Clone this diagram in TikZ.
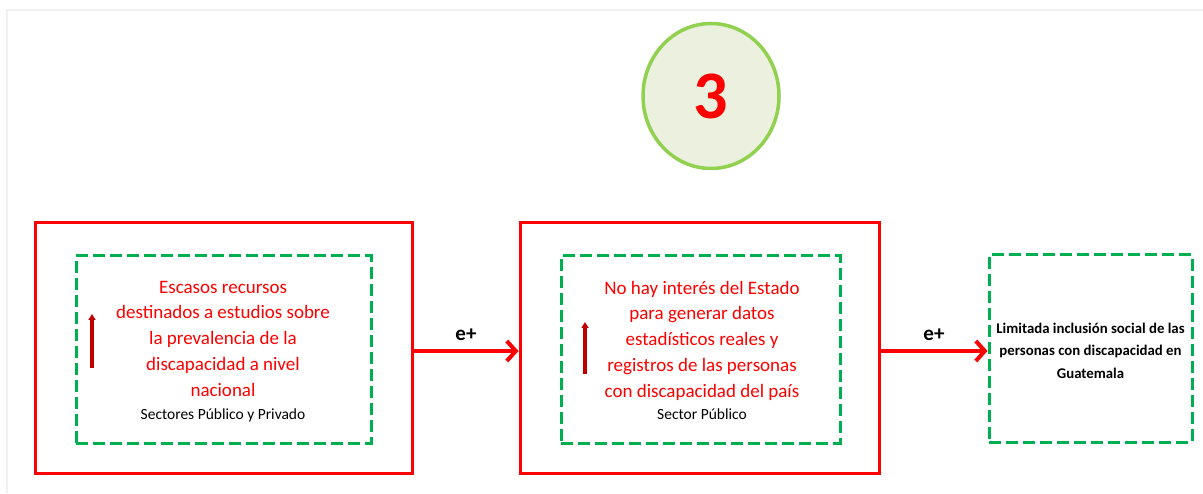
\documentclass[tikz,border=0pt]{standalone}
\usepackage{fontspec}
\setmainfont{Carlito}
\usetikzlibrary{arrows.meta,shapes.geometric}
\definecolor{redbox}{HTML}{FF0000}
\definecolor{greendash}{HTML}{00B050}
\definecolor{circfill}{HTML}{EBF1DE}
\definecolor{circline}{HTML}{92D050}
\definecolor{darkred}{HTML}{C00000}
\tikzset{
  redframe/.style={draw=redbox, line width=3pt},
  greenframe/.style={draw=greendash, line width=3pt, dash pattern=on 12pt off 5pt},
  bigarrow/.style={draw=redbox, line width=4pt, -{Straight Barb[length=9pt,width=20pt,line width=4pt]}},
  uparrow/.style={draw=darkred, line width=3.5pt, -{Triangle[length=6pt,width=7pt]}},
  redtext/.style={text=redbox, font=\fontsize{19}{26}\selectfont, align=center},
  blacktext/.style={text=black, font=\fontsize{15.5}{18}\selectfont, align=center},
  lbl/.style={font=\bfseries\fontsize{21}{24}\selectfont},
}
\begin{document}
\begin{tikzpicture}[x=1pt,y=-1pt]
\useasboundingbox (0,0) rectangle (1203,494);
% faint frame
\draw[draw=black!6, line width=2pt] (7,493) -- (7,10) -- (1203,10);
% circle
\node[ellipse, minimum width=136pt, minimum height=145pt, fill=circfill, draw=circline, line width=3.5pt, inner sep=0pt] (num) at (711,96) {};
\node[text=redbox, font=\bfseries\fontsize{68}{68}\selectfont] (numtxt) at (711,96) {3};
% box 1
\node[redframe, minimum width=377pt, minimum height=251pt, inner sep=0pt] (b1) at (223.5,348) {};
\node[greenframe, minimum width=295pt, minimum height=187pt, inner sep=0pt] (g1) at (223.5,349.5) {};
\node[redtext, anchor=base] (t1) at (223,397) {Escasos recursos\\destinados a estudios sobre\\la prevalencia de la\\discapacidad a nivel\\nacional};
\node[blacktext, anchor=base] (s1) at (223,420) {Sectores Público y Privado};
\coordinate (a1s) at (92,368);
\coordinate (a1e) at (92,314);
\draw[uparrow] (a1s) -- (a1e);
% box 2
\node[redframe, minimum width=359pt, minimum height=251pt, inner sep=0pt] (b2) at (699.5,348) {};
\node[greenframe, minimum width=279pt, minimum height=187pt, inner sep=0pt] (g2) at (700.5,349.5) {};
\node[redtext, anchor=base] (t2) at (702,398) {No hay interés del Estado\\para generar datos\\estadísticos reales y\\registros de las personas\\con discapacidad del país};
\node[blacktext, anchor=base] (s2) at (702,420) {Sector Público};
\coordinate (a2s) at (585,374);
\coordinate (a2e) at (585,322);
\draw[uparrow] (a2s) -- (a2e);
% box 3
\node[greenframe, minimum width=203pt, minimum height=187pt, inner sep=0pt] (g3) at (1090.5,348.5) {};
\node[align=center, font=\bfseries\fontsize{14.8}{22.5}\selectfont] (t3) at (1090.5,350.5) {Limitada inclusión social de las\\personas con discapacidad en\\Guatemala};
% arrows
\draw[bigarrow] (b1.east |- 0,351) -- (b2.west |- 0,351) node[midway, above=5pt, lbl] (e1) {e+};
\draw[bigarrow] (b2.east |- 0,351) -- (g3.west |- 0,351) node[midway, above=5pt, lbl] (e2) {e+};
\end{tikzpicture}
\end{document}
